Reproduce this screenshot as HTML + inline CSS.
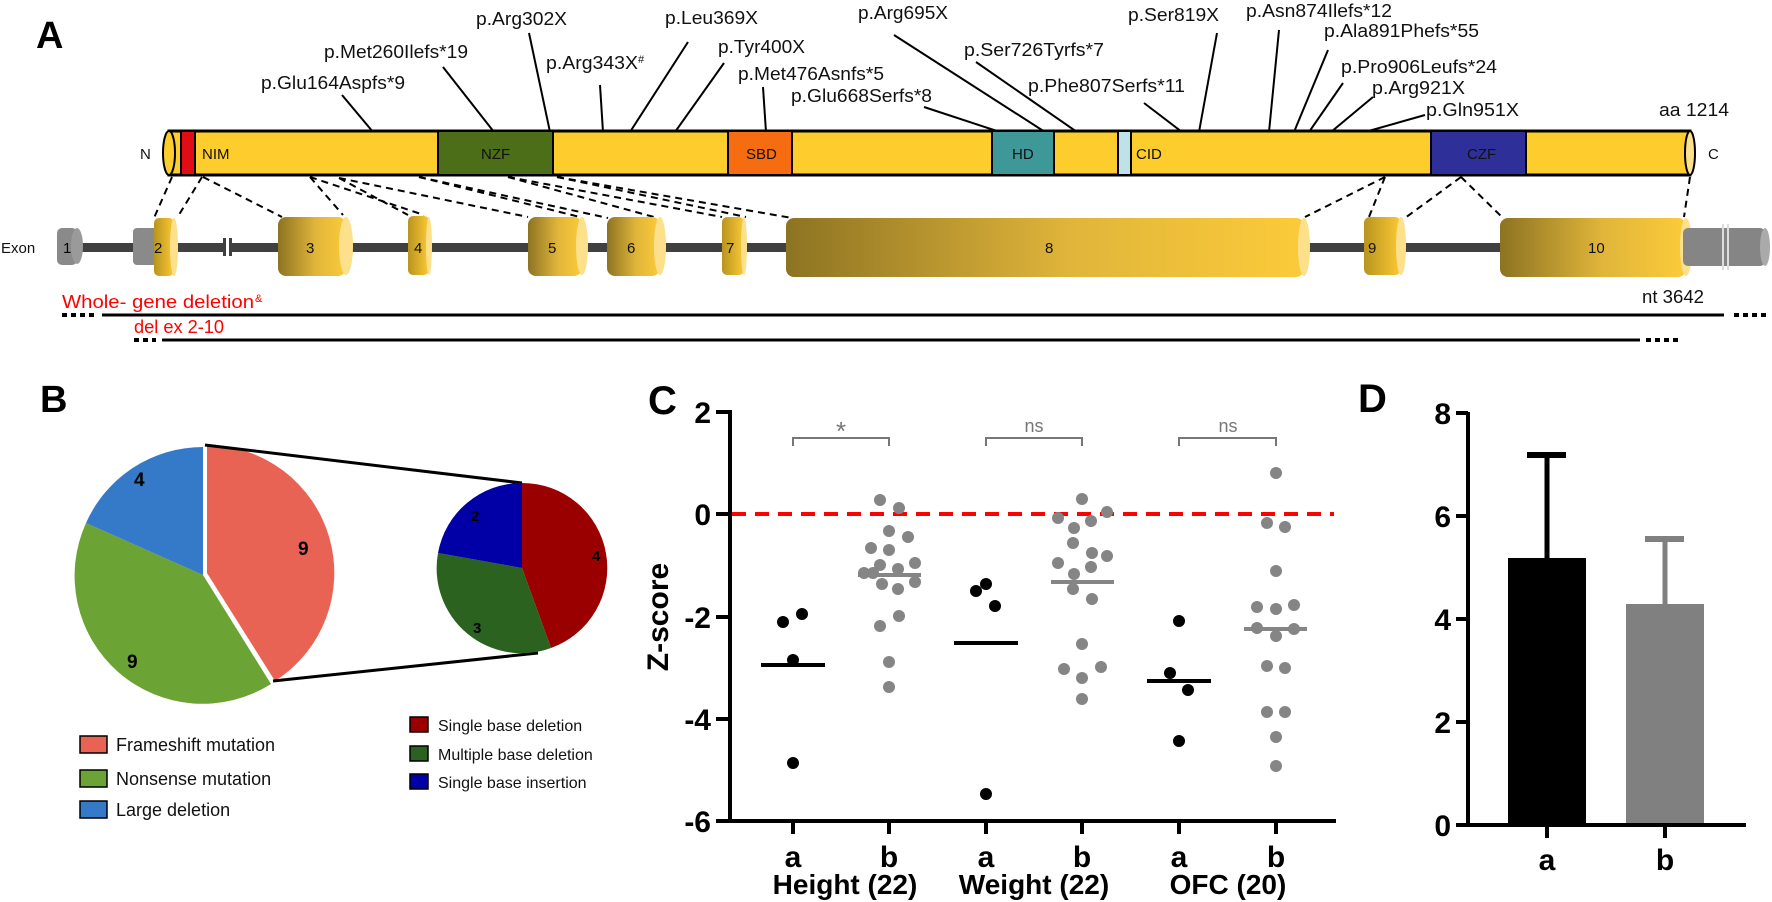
<!DOCTYPE html>
<html><head><meta charset="utf-8"><style>
html,body{margin:0;padding:0;background:#fff;}
svg{display:block;font-family:"Liberation Sans",Arial,sans-serif;}
.lb{font-size:18px;fill:#111;}
.bold{font-weight:bold;}
</style></head><body>
<svg width="1772" height="902" viewBox="0 0 1772 902" xmlns="http://www.w3.org/2000/svg">
<defs>
<linearGradient id="gold" x1="0" x2="1" y1="0" y2="0">
<stop offset="0" stop-color="#8d7322"/><stop offset="0.55" stop-color="#e0b53a"/><stop offset="1" stop-color="#fccb3a"/></linearGradient>
<linearGradient id="goldS" x1="0" x2="1" y1="0" y2="0">
<stop offset="0" stop-color="#b8941f"/><stop offset="1" stop-color="#fcc935"/></linearGradient>
</defs>

<!-- Panel A -->
<text x="36" y="48" font-size="38" font-weight="bold">A</text>
<!-- mutation labels -->
<g class="lb">
<text x="261" y="89" textLength="144" lengthAdjust="spacingAndGlyphs">p.Glu164Aspfs*9</text>
<text x="324" y="58" textLength="144" lengthAdjust="spacingAndGlyphs">p.Met260Ilefs*19</text>
<text x="476" y="25" textLength="91" lengthAdjust="spacingAndGlyphs">p.Arg302X</text>
<text x="546" y="69" textLength="92" lengthAdjust="spacingAndGlyphs">p.Arg343X</text><text x="638" y="63" font-size="11">#</text>
<text x="665" y="24" textLength="93" lengthAdjust="spacingAndGlyphs">p.Leu369X</text>
<text x="718" y="53" textLength="87" lengthAdjust="spacingAndGlyphs">p.Tyr400X</text>
<text x="738" y="80" textLength="146" lengthAdjust="spacingAndGlyphs">p.Met476Asnfs*5</text>
<text x="791" y="102" textLength="141" lengthAdjust="spacingAndGlyphs">p.Glu668Serfs*8</text>
<text x="858" y="19" textLength="90" lengthAdjust="spacingAndGlyphs">p.Arg695X</text>
<text x="964" y="56" textLength="140" lengthAdjust="spacingAndGlyphs">p.Ser726Tyrfs*7</text>
<text x="1028" y="92" textLength="157" lengthAdjust="spacingAndGlyphs">p.Phe807Serfs*11</text>
<text x="1128" y="21" textLength="91" lengthAdjust="spacingAndGlyphs">p.Ser819X</text>
<text x="1246" y="17" textLength="146" lengthAdjust="spacingAndGlyphs">p.Asn874Ilefs*12</text>
<text x="1324" y="37" textLength="155" lengthAdjust="spacingAndGlyphs">p.Ala891Phefs*55</text>
<text x="1341" y="73" textLength="156" lengthAdjust="spacingAndGlyphs">p.Pro906Leufs*24</text>
<text x="1372" y="94" textLength="93" lengthAdjust="spacingAndGlyphs">p.Arg921X</text>
<text x="1426" y="116" textLength="93" lengthAdjust="spacingAndGlyphs">p.Gln951X</text>
<text x="1659" y="116" textLength="70" lengthAdjust="spacingAndGlyphs">aa 1214</text>
</g>
<g stroke="#000" stroke-width="2">
<line x1="342" y1="95" x2="373" y2="132"/>
<line x1="443" y1="67" x2="494" y2="132"/>
<line x1="529" y1="33" x2="550" y2="132"/>
<line x1="600" y1="85" x2="603" y2="132"/>
<line x1="688" y1="42" x2="630" y2="132"/>
<line x1="724" y1="63" x2="675" y2="132"/>
<line x1="763" y1="87" x2="766" y2="132"/>
<line x1="924" y1="107" x2="1000" y2="132"/>
<line x1="894" y1="35" x2="1045" y2="132"/>
<line x1="976" y1="62" x2="1077" y2="132"/>
<line x1="1144" y1="103" x2="1182" y2="132"/>
<line x1="1217" y1="33" x2="1199" y2="132"/>
<line x1="1279" y1="30" x2="1269" y2="132"/>
<line x1="1328" y1="50" x2="1294" y2="132"/>
<line x1="1343" y1="83" x2="1309" y2="132"/>
<line x1="1373" y1="97" x2="1331" y2="132"/>
<line x1="1425" y1="115" x2="1365" y2="132"/>
</g>
<!-- protein bar -->
<rect x="169" y="131" width="1521" height="44" fill="#fdcd2e" stroke="#000" stroke-width="3"/>
<ellipse cx="169" cy="153" rx="6" ry="22" fill="#fdcd2e" stroke="#000" stroke-width="2"/>
<rect x="181" y="131" width="14" height="44" fill="#e00d14" stroke="#000" stroke-width="2"/>
<rect x="438" y="131" width="115" height="44" fill="#4c6e18" stroke="#000" stroke-width="2"/>
<rect x="728" y="131" width="64" height="44" fill="#f66c10" stroke="#000" stroke-width="2"/>
<rect x="992" y="131" width="62" height="44" fill="#3f9898" stroke="#000" stroke-width="2"/>
<rect x="1118" y="131" width="13" height="44" fill="#bfe2e8" stroke="#000" stroke-width="2"/>
<rect x="1431" y="131" width="95" height="44" fill="#2f2f9a" stroke="#000" stroke-width="2"/>
<ellipse cx="1690" cy="153" rx="5" ry="22" fill="#fde08c" stroke="#000" stroke-width="2"/>
<g font-size="15" fill="#111">
<text x="140" y="159">N</text>
<text x="202" y="159">NIM</text>
<text x="481" y="159">NZF</text>
<text x="746" y="159">SBD</text>
<text x="1012" y="159">HD</text>
<text x="1136" y="159">CID</text>
<text x="1467" y="159">CZF</text>
<text x="1708" y="159">C</text>
</g>
<!-- dashed connectors -->
<g stroke="#000" stroke-width="2" stroke-dasharray="7,5" fill="none">
<line x1="172" y1="177" x2="154" y2="218"/>
<line x1="202" y1="177" x2="177" y2="218"/>
<line x1="203" y1="177" x2="282" y2="217"/>
<line x1="310" y1="177" x2="343" y2="215"/>
<line x1="310" y1="177" x2="424" y2="215"/>
<line x1="339" y1="178" x2="408" y2="215"/>
<line x1="339" y1="178" x2="528" y2="217"/>
<line x1="419" y1="177" x2="580" y2="217"/>
<line x1="419" y1="177" x2="608" y2="218"/>
<line x1="508" y1="177" x2="654" y2="217"/>
<line x1="508" y1="177" x2="722" y2="217"/>
<line x1="557" y1="177" x2="746" y2="217"/>
<line x1="557" y1="177" x2="792" y2="218"/>
<line x1="1385" y1="177" x2="1305" y2="217"/>
<line x1="1385" y1="177" x2="1369" y2="217"/>
<line x1="1461" y1="177" x2="1405" y2="218"/>
<line x1="1461" y1="177" x2="1503" y2="218"/>
<line x1="1690" y1="177" x2="1684" y2="217"/>
</g>
<!-- exon row -->
<text x="1" y="253" font-size="15" fill="#111">Exon</text>
<rect x="70" y="243" width="1620" height="9" fill="#404040"/>
<rect x="223" y="238" width="3" height="18" fill="#404040"/>
<rect x="229" y="238" width="3" height="18" fill="#404040"/>
<rect x="226" y="238" width="3" height="18" fill="#fff"/>
<rect x="57" y="228" width="20" height="37" rx="5" fill="#8a8a8a"/>
<ellipse cx="77" cy="246" rx="6" ry="18" fill="#9a9a9a"/>
<text x="63" y="253" font-size="15">1</text>
<rect x="133" y="228" width="24" height="37" rx="4" fill="#8a8a8a"/>
<!-- exons gold -->
<g>
<rect x="154" y="218" width="20" height="58" rx="5" fill="url(#goldS)"/><ellipse cx="174" cy="247" rx="4" ry="29" fill="#fde08c"/>
<rect x="278" y="217" width="68" height="59" rx="8" fill="url(#gold)"/><ellipse cx="346" cy="246" rx="7" ry="29" fill="#fde08c"/>
<rect x="408" y="216" width="21" height="59" rx="5" fill="url(#goldS)"/><ellipse cx="429" cy="246" rx="3" ry="29" fill="#fde08c"/>
<rect x="528" y="217" width="54" height="59" rx="8" fill="url(#gold)"/><ellipse cx="582" cy="246" rx="6" ry="29" fill="#fde08c"/>
<rect x="607" y="217" width="53" height="59" rx="8" fill="url(#gold)"/><ellipse cx="660" cy="246" rx="6" ry="29" fill="#fde08c"/>
<rect x="722" y="217" width="22" height="58" rx="5" fill="url(#goldS)"/><ellipse cx="744" cy="246" rx="3" ry="29" fill="#fde08c"/>
<rect x="786" y="218" width="518" height="59" rx="8" fill="url(#gold)"/><ellipse cx="1304" cy="247" rx="6" ry="29" fill="#fde08c"/>
<rect x="1364" y="217" width="37" height="58" rx="6" fill="url(#goldS)"/><ellipse cx="1401" cy="246" rx="5" ry="29" fill="#fde08c"/>
<rect x="1500" y="218" width="186" height="59" rx="8" fill="url(#gold)"/><ellipse cx="1686" cy="247" rx="6" ry="29" fill="#fde08c"/>
</g>
<rect x="1683" y="228" width="82" height="38" rx="5" fill="#858585"/>
<ellipse cx="1765" cy="247" rx="5" ry="19" fill="#aaa"/>
<rect x="1722" y="224" width="2" height="46" fill="#ddd"/><rect x="1727" y="224" width="2" height="46" fill="#ddd"/>
<g font-size="15" fill="#111">
<text x="154" y="253">2</text><text x="306" y="253">3</text><text x="414" y="253">4</text>
<text x="548" y="253">5</text><text x="627" y="253">6</text><text x="726" y="253">7</text>
<text x="1045" y="253">8</text><text x="1368" y="253">9</text><text x="1588" y="253">10</text>
</g>
<!-- deletion lines -->
<text x="62" y="308" font-size="18" fill="#f00" textLength="192" lengthAdjust="spacingAndGlyphs">Whole- gene deletion</text><text x="255" y="302" font-size="11" fill="#f00">&amp;</text>
<text x="1642" y="303" font-size="18" fill="#111" textLength="62" lengthAdjust="spacingAndGlyphs">nt 3642</text>
<line x1="62" y1="315" x2="94" y2="315" stroke="#000" stroke-width="4" stroke-dasharray="5,4"/>
<line x1="102" y1="315" x2="1724" y2="315" stroke="#000" stroke-width="3"/>
<line x1="1734" y1="315" x2="1770" y2="315" stroke="#000" stroke-width="4" stroke-dasharray="5,4"/>
<text x="134" y="333" font-size="18" fill="#f00" textLength="90" lengthAdjust="spacingAndGlyphs">del ex 2-10</text>
<line x1="134" y1="340" x2="156" y2="340" stroke="#000" stroke-width="4" stroke-dasharray="5,4"/>
<line x1="162" y1="340" x2="1640" y2="340" stroke="#000" stroke-width="3"/>
<line x1="1646" y1="340" x2="1682" y2="340" stroke="#000" stroke-width="4" stroke-dasharray="5,4"/>

<!-- Panel B -->
<text x="40" y="412" font-size="38" font-weight="bold">B</text>
<!-- big pie center (203,575) r 128; red exploded -->
<path d="M207,573 L207,445 A128,128 0 0 1 275,681 Z" fill="#e86354"/>
<path d="M203,575 L271,684 A128,128 0 0 1 86,523 Z" fill="#6ba334"/>
<path d="M203,575 L86,523 A128,128 0 0 1 203,447 Z" fill="#3579c9"/>
<line x1="205" y1="445" x2="522" y2="483" stroke="#000" stroke-width="3"/>
<line x1="273" y1="681" x2="538" y2="653" stroke="#000" stroke-width="3"/>
<!-- small pie center (522,568) r 85 -->
<path d="M522,568 L522,483 A85,85 0 0 1 551,648 Z" fill="#9b0000"/>
<path d="M522,568 L551,648 A85,85 0 0 1 438,553 Z" fill="#2c621f"/>
<path d="M522,568 L438,553 A85,85 0 0 1 522,483 Z" fill="#0000a6"/>
<g font-weight="bold" fill="#000">
<text x="134" y="486" font-size="19">4</text>
<text x="298" y="555" font-size="19">9</text>
<text x="127" y="668" font-size="19">9</text>
<text x="592" y="561" font-size="15">4</text>
<text x="471" y="521" font-size="15">2</text>
<text x="473" y="633" font-size="15">3</text>
</g>
<g font-size="18" fill="#111">
<rect x="80" y="736" width="27" height="17" fill="#e86354" stroke="#000" stroke-width="1.5"/><text x="116" y="751">Frameshift mutation</text>
<rect x="80" y="770" width="27" height="17" fill="#6ba334" stroke="#000" stroke-width="1.5"/><text x="116" y="785">Nonsense mutation</text>
<rect x="80" y="801" width="27" height="17" fill="#3579c9" stroke="#000" stroke-width="1.5"/><text x="116" y="816">Large deletion</text>
</g>
<g font-size="16" fill="#111">
<rect x="410" y="717" width="18" height="15" fill="#9b0000" stroke="#000" stroke-width="1.5"/><text x="438" y="731">Single base deletion</text>
<rect x="410" y="746" width="18" height="15" fill="#2c621f" stroke="#000" stroke-width="1.5"/><text x="438" y="760">Multiple base deletion</text>
<rect x="410" y="774" width="18" height="15" fill="#0000a6" stroke="#000" stroke-width="1.5"/><text x="438" y="788">Single base insertion</text>
</g>

<!-- Panel C -->
<text x="648" y="414" font-size="40" font-weight="bold">C</text>
<line x1="730" y1="410" x2="730" y2="823" stroke="#000" stroke-width="4"/>
<line x1="716" y1="821" x2="1336" y2="821" stroke="#000" stroke-width="4"/>
<g stroke="#000" stroke-width="4">
<line x1="716" y1="412" x2="730" y2="412"/><line x1="716" y1="514" x2="730" y2="514"/>
<line x1="716" y1="617" x2="730" y2="617"/><line x1="716" y1="719" x2="730" y2="719"/>
<line x1="793" y1="821" x2="793" y2="834"/><line x1="889" y1="821" x2="889" y2="834"/>
<line x1="986" y1="821" x2="986" y2="834"/><line x1="1082" y1="821" x2="1082" y2="834"/>
<line x1="1179" y1="821" x2="1179" y2="834"/><line x1="1276" y1="821" x2="1276" y2="834"/>
</g>
<g font-size="30" font-weight="bold" text-anchor="end">
<text x="711" y="423">2</text><text x="711" y="525">0</text><text x="711" y="628">-2</text>
<text x="711" y="730">-4</text><text x="711" y="832">-6</text>
</g>
<text transform="translate(668,617) rotate(-90)" font-size="30" font-weight="bold" text-anchor="middle">Z-score</text>
<g font-size="30" font-weight="bold" text-anchor="middle">
<text x="793" y="867">a</text><text x="889" y="867">b</text>
<text x="986" y="867">a</text><text x="1082" y="867">b</text>
<text x="1179" y="867">a</text><text x="1276" y="867">b</text>
<text x="845" y="894" font-size="28">Height (22)</text>
<text x="1034" y="894" font-size="28">Weight (22)</text>
<text x="1228" y="894" font-size="28">OFC (20)</text>
</g>
<g stroke="#777" stroke-width="2" fill="none">
<polyline points="793,446 793,438 889,438 889,446"/>
<polyline points="986,446 986,438 1082,438 1082,446"/>
<polyline points="1179,446 1179,438 1276,438 1276,446"/>
</g>
<g fill="#777" text-anchor="middle">
<text x="841" y="440" font-size="26">*</text>
<text x="1034" y="432" font-size="18">ns</text>
<text x="1228" y="432" font-size="18">ns</text>
</g>
<line x1="732" y1="514" x2="1334" y2="514" stroke="#f00" stroke-width="4" stroke-dasharray="14,9"/>
<g fill="#000">
<circle cx="783" cy="622" r="6"/><circle cx="802" cy="614" r="6"/><circle cx="793" cy="660" r="6"/><circle cx="793" cy="763" r="6"/>
<circle cx="976" cy="591" r="6"/><circle cx="986" cy="584" r="6"/><circle cx="995" cy="606" r="6"/><circle cx="986" cy="794" r="6"/>
<circle cx="1179" cy="621" r="6"/><circle cx="1170" cy="673" r="6"/><circle cx="1188" cy="690" r="6"/><circle cx="1179" cy="741" r="6"/>
</g>
<g stroke="#000" stroke-width="4">
<line x1="761" y1="665" x2="825" y2="665"/><line x1="954" y1="643" x2="1018" y2="643"/><line x1="1147" y1="681" x2="1211" y2="681"/>
</g>
<g fill="#858585">
<circle cx="880" cy="500" r="6"/><circle cx="899" cy="508" r="6"/><circle cx="889" cy="531" r="6"/><circle cx="908" cy="537" r="6"/>
<circle cx="871" cy="548" r="6"/><circle cx="889" cy="550" r="6"/><circle cx="880" cy="565" r="6"/><circle cx="915" cy="563" r="6"/>
<circle cx="864" cy="573" r="6"/><circle cx="873" cy="573" r="6"/><circle cx="898" cy="569" r="6"/><circle cx="882" cy="584" r="6"/>
<circle cx="898" cy="589" r="6"/><circle cx="915" cy="582" r="6"/><circle cx="899" cy="616" r="6"/><circle cx="880" cy="626" r="6"/>
<circle cx="889" cy="662" r="6"/><circle cx="889" cy="687" r="6"/>
<circle cx="1082" cy="499" r="6"/><circle cx="1107" cy="512" r="6"/><circle cx="1058" cy="518" r="6"/><circle cx="1091" cy="521" r="6"/>
<circle cx="1074" cy="528" r="6"/><circle cx="1073" cy="543" r="6"/><circle cx="1092" cy="553" r="6"/><circle cx="1107" cy="556" r="6"/>
<circle cx="1058" cy="563" r="6"/><circle cx="1091" cy="567" r="6"/><circle cx="1074" cy="574" r="6"/><circle cx="1073" cy="589" r="6"/>
<circle cx="1092" cy="599" r="6"/><circle cx="1082" cy="644" r="6"/><circle cx="1064" cy="669" r="6"/><circle cx="1101" cy="667" r="6"/>
<circle cx="1082" cy="678" r="6"/><circle cx="1082" cy="699" r="6"/>
<circle cx="1276" cy="473" r="6"/><circle cx="1267" cy="523" r="6"/><circle cx="1285" cy="527" r="6"/><circle cx="1276" cy="571" r="6"/>
<circle cx="1257" cy="607" r="6"/><circle cx="1276" cy="609" r="6"/><circle cx="1294" cy="605" r="6"/><circle cx="1257" cy="628" r="6"/>
<circle cx="1294" cy="629" r="6"/><circle cx="1276" cy="636" r="6"/><circle cx="1267" cy="666" r="6"/><circle cx="1285" cy="668" r="6"/>
<circle cx="1267" cy="712" r="6"/><circle cx="1285" cy="712" r="6"/><circle cx="1276" cy="737" r="6"/><circle cx="1276" cy="766" r="6"/>
</g>
<g stroke="#858585" stroke-width="4">
<line x1="858" y1="575" x2="921" y2="575"/><line x1="1051" y1="582" x2="1114" y2="582"/><line x1="1244" y1="629" x2="1307" y2="629"/>
</g>

<!-- Panel D -->
<text x="1358" y="412" font-size="40" font-weight="bold">D</text>
<rect x="1508" y="558" width="78" height="267" fill="#000"/>
<rect x="1626" y="604" width="78" height="221" fill="#808080"/>
<line x1="1547" y1="558" x2="1547" y2="457" stroke="#000" stroke-width="5"/>
<line x1="1527" y1="455" x2="1566" y2="455" stroke="#000" stroke-width="6"/>
<line x1="1665" y1="604" x2="1665" y2="541" stroke="#808080" stroke-width="5"/>
<line x1="1645" y1="539" x2="1684" y2="539" stroke="#808080" stroke-width="6"/>
<line x1="1468" y1="412" x2="1468" y2="827" stroke="#000" stroke-width="4"/>
<line x1="1456" y1="825" x2="1746" y2="825" stroke="#000" stroke-width="4"/>
<g stroke="#000" stroke-width="4">
<line x1="1456" y1="413" x2="1468" y2="413"/><line x1="1456" y1="516" x2="1468" y2="516"/>
<line x1="1456" y1="619" x2="1468" y2="619"/><line x1="1456" y1="722" x2="1468" y2="722"/>
<line x1="1547" y1="825" x2="1547" y2="838"/><line x1="1665" y1="825" x2="1665" y2="838"/>
</g>
<g font-size="30" font-weight="bold" text-anchor="end">
<text x="1451" y="424">8</text><text x="1451" y="527">6</text><text x="1451" y="630">4</text>
<text x="1451" y="733">2</text><text x="1451" y="836">0</text>
</g>
<g font-size="30" font-weight="bold" text-anchor="middle">
<text x="1547" y="870">a</text><text x="1665" y="870">b</text>
</g>
</svg>
</body></html>
